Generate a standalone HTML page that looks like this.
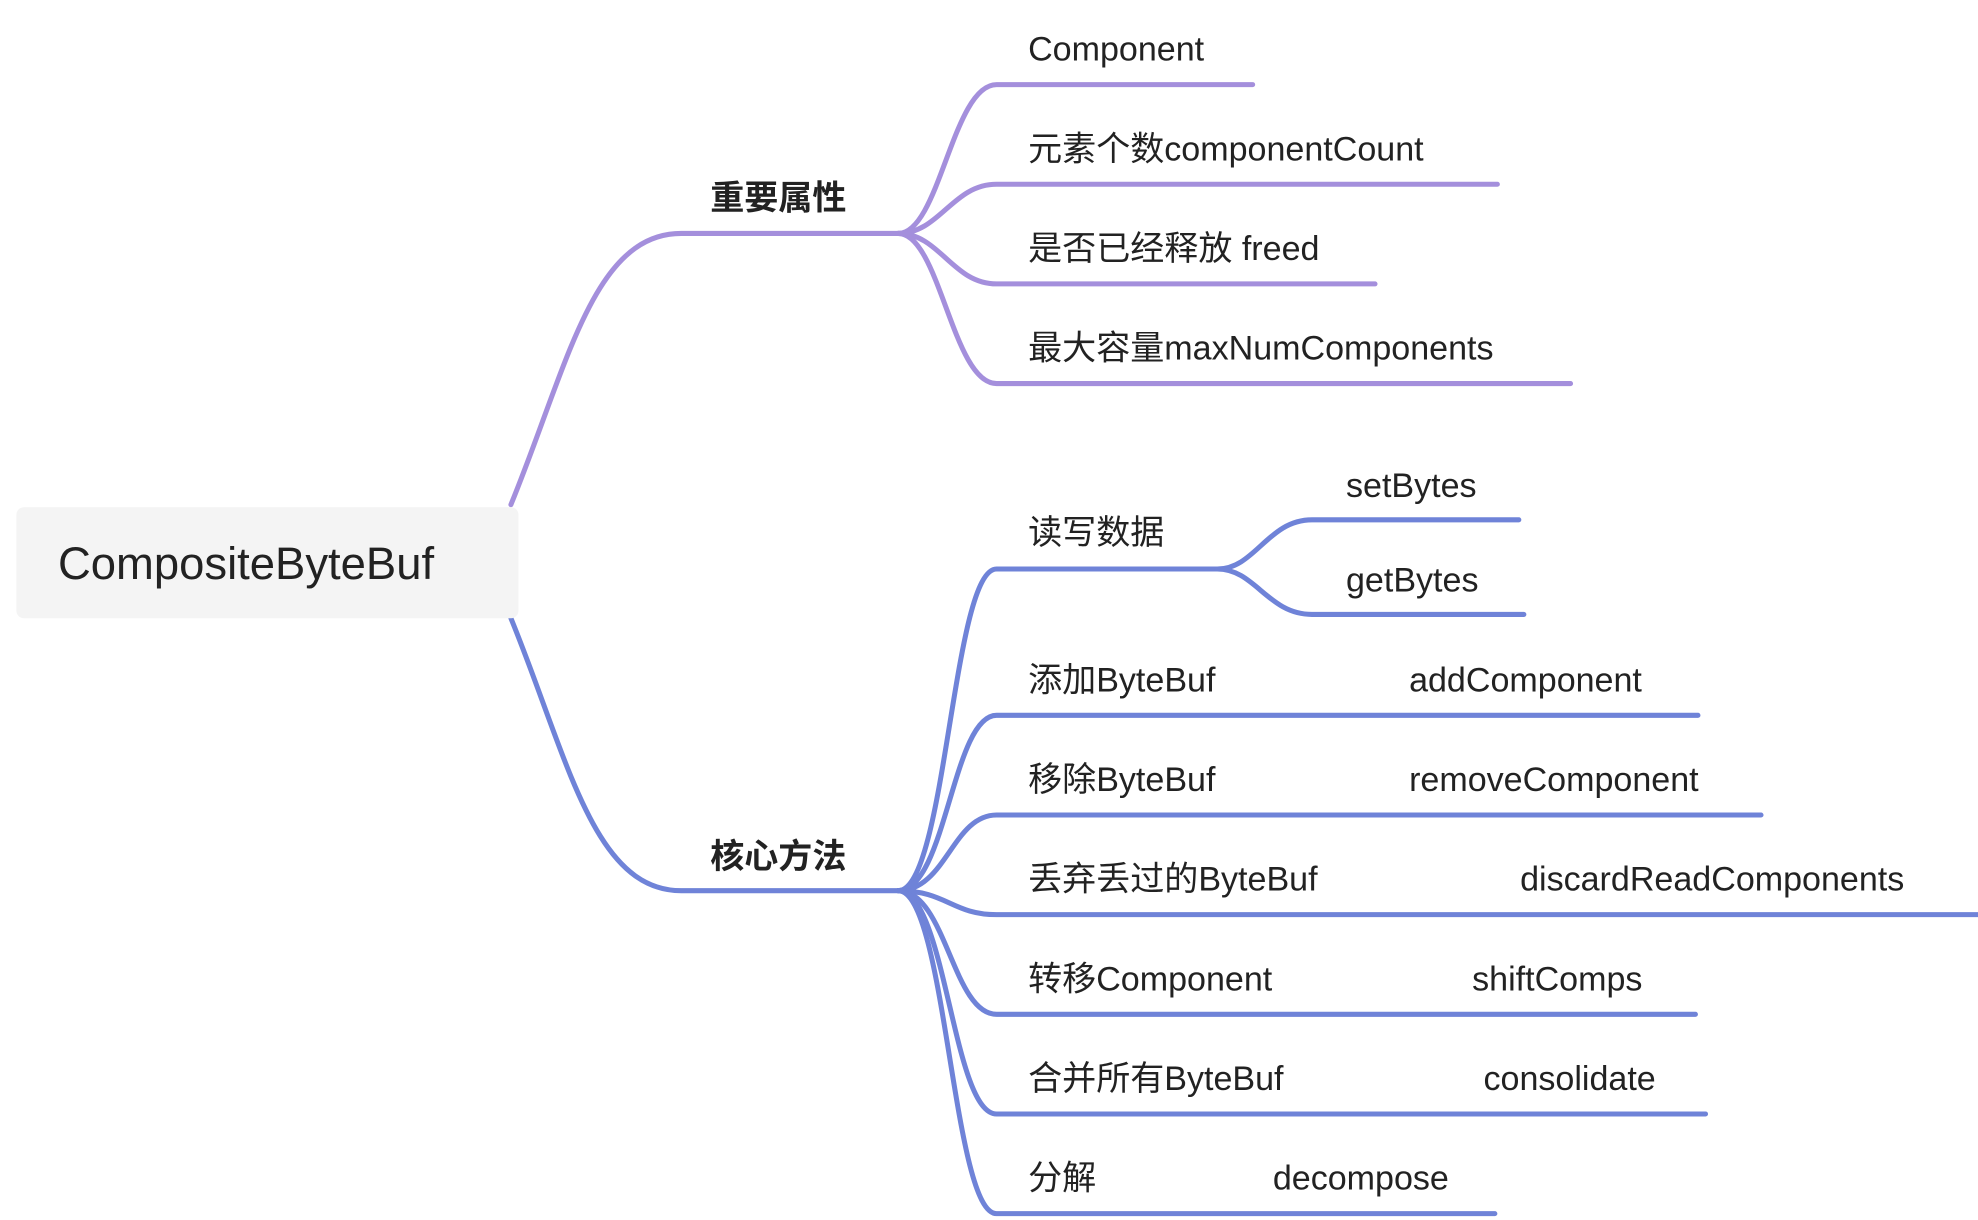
<!DOCTYPE html>
<html><head><meta charset="utf-8"><style>html,body{margin:0;padding:0;background:#fff}svg{display:block}text{font-family:"Liberation Sans","Noto Sans CJK SC",sans-serif;fill:#222}</style></head>
<body>
<svg width="1978" height="1220" viewBox="0 0 1568 967" xmlns="http://www.w3.org/2000/svg">
<g fill="none" stroke-width="4" stroke-linecap="round">
<g stroke="#a48fdc">
<path d="M405,400 C450,290 470,185 540,185 L712,185"/>
<path d="M712,185 C745,185 755,67 790,67 L993,67"/>
<path d="M712,185 C745,185 755,146 790,146 L1187,146"/>
<path d="M712,185 C745,185 755,225 790,225 L1090,225"/>
<path d="M712,185 C745,185 755,304 790,304 L1245,304"/>
</g>
<g stroke="#6f83d8">
<path d="M405,490 C450,600 470,706 540,706 L712,706"/>
<path d="M712,706 C750,706 755,451 790,451 L965,451"/>
<path d="M965,451 C995,451 1005,412 1040,412 L1204,412"/>
<path d="M965,451 C995,451 1005,487 1040,487 L1208,487"/>
<path d="M712,706 C750,706 755,567 790,567 L1346,567"/>
<path d="M712,706 C750,706 755,646 790,646 L1396,646"/>
<path d="M712,706 C750,706 755,725 790,725 L1568,725"/>
<path d="M712,706 C750,706 755,804 790,804 L1344,804"/>
<path d="M712,706 C750,706 755,883 790,883 L1352,883"/>
<path d="M712,706 C750,706 755,962 790,962 L1185,962"/>
</g>
</g>
<rect x="13" y="402" width="398" height="88" rx="6" fill="#f4f4f4"/>
<text x="46" y="459" font-size="36">CompositeByteBuf</text>
<g font-size="27" font-weight="bold"><text x="563" y="166">重要属性</text><text x="563" y="688">核心方法</text></g>
<g font-size="27">
<text x="815" y="48">Component</text>
<text x="815" y="127">元素个数componentCount</text>
<text x="815" y="206">是否已经释放 freed</text>
<text x="815" y="285">最大容量maxNumComponents</text>
<text x="815" y="431">读写数据</text>
<text x="1067" y="394">setBytes</text>
<text x="1067" y="469">getBytes</text>
<text x="815" y="548">添加ByteBuf</text><text x="1117" y="548">addComponent</text>
<text x="815" y="627">移除ByteBuf</text><text x="1117" y="627">removeComponent</text>
<text x="815" y="706">丢弃丢过的ByteBuf</text><text x="1205" y="706">discardReadComponents</text>
<text x="815" y="785">转移Component</text><text x="1167" y="785">shiftComps</text>
<text x="815" y="864">合并所有ByteBuf</text><text x="1176" y="864">consolidate</text>
<text x="815" y="943">分解</text><text x="1009" y="943">decompose</text>
</g>
</svg>
</body></html>
